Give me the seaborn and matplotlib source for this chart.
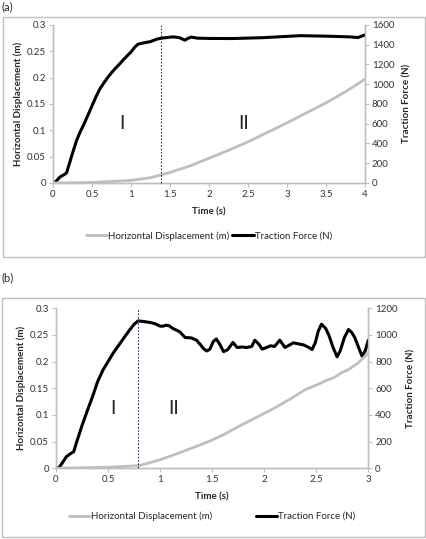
import numpy as np
import matplotlib
matplotlib.use("Agg")
import matplotlib.pyplot as plt
from matplotlib.lines import Line2D
from matplotlib.patches import Rectangle
import seaborn as sns

sns.set_style("white")
plt.rcParams['font.family'] = ['Lato', 'DejaVu Sans']

# ---- panel (a) data
ta_force = [0, 0.03, 0.09, 0.15, 0.175, 0.2, 0.25, 0.3, 0.35, 0.4, 0.45, 0.5, 0.55, 0.6,
            0.65, 0.7, 0.75, 0.8, 0.85, 0.9, 0.95, 1.0, 1.05, 1.09, 1.15, 1.25, 1.33,
            1.4, 1.45, 1.54, 1.62, 1.67, 1.69, 1.73, 1.77, 1.85, 2.0,
            2.31, 2.7, 3.17, 3.5, 3.8, 3.91, 4.0]
fa_force = [0, 10, 61, 88, 105, 170, 300, 425, 520, 600, 690, 780, 870, 950,
            1010, 1065, 1115, 1160, 1200, 1245, 1285, 1325, 1375, 1404, 1415, 1430, 1455,
            1466, 1470, 1478, 1470, 1452, 1445, 1462, 1476, 1465, 1462,
            1461, 1470, 1490, 1485, 1478, 1471, 1498]
ta_disp = [0, 0.5, 1.0, 1.25, 1.5, 1.75, 2.0, 2.25, 2.5, 2.75, 3.0, 3.25, 3.5, 3.75, 4.0]
da_disp = [0, 0.001, 0.005, 0.010, 0.02, 0.032, 0.047, 0.062, 0.078, 0.096, 0.114,
           0.133, 0.152, 0.173, 0.197]
split_a = 1.38

# ---- panel (b) data
tb_force = [0, 0.03, 0.06, 0.1, 0.14, 0.17, 0.2, 0.25, 0.3, 0.35, 0.4, 0.45, 0.5, 0.55,
            0.6, 0.65, 0.7, 0.75, 0.79, 0.85, 0.9, 0.95, 1.0, 1.03, 1.06, 1.09, 1.12,
            1.16, 1.19, 1.24, 1.3, 1.35, 1.39, 1.42, 1.45, 1.48, 1.51, 1.54, 1.57, 1.61,
            1.65, 1.70, 1.74, 1.79, 1.83, 1.88, 1.91, 1.95, 1.98, 2.02, 2.06, 2.1, 2.15,
            2.2, 2.28, 2.38, 2.42, 2.46, 2.49, 2.52, 2.55, 2.59, 2.62, 2.66, 2.70, 2.73,
            2.77, 2.81, 2.84, 2.87, 2.91, 2.94, 2.97, 3.0]
fb_force = [0, 5, 40, 87, 110, 124, 200, 320, 430, 535, 650, 735, 800, 865,
            920, 975, 1030, 1080, 1106, 1100, 1094, 1085, 1066, 1066, 1074, 1068, 1050,
            1035, 1023, 981, 978, 961, 925, 895, 880, 895, 950, 970, 935, 875,
            890, 944, 906, 910, 906, 914, 961, 930, 894, 905, 919, 914, 961,
            906, 941, 925, 910, 891, 940, 1030, 1081, 1050, 1001, 910, 836, 880,
            980, 1041, 1020, 981, 900, 841, 880, 961]
tb_disp = [0, 0.5, 0.8, 1.0, 1.2, 1.4, 1.5, 1.6, 1.75, 1.85, 2.0, 2.1, 2.25, 2.4, 2.5,
           2.6, 2.67, 2.75, 2.8, 2.9, 3.0]
db_disp = [0, 0.002, 0.005, 0.016, 0.03, 0.045, 0.053, 0.062, 0.078, 0.088, 0.103, 0.113,
           0.13, 0.148, 0.156, 0.165, 0.170, 0.18, 0.184, 0.197, 0.216]
split_b = 0.79

disp_ticks = [0, 0.05, 0.1, 0.15, 0.2, 0.25, 0.3]
disp_labels = ["0", "0.05", "0.1", "0.15", "0.2", "0.25", "0.3"]

GREY = "#bfbfbf"
AXC = "#bfbfbf"
FS = 7


def panel(rect, t_d, d, t_f, f, xmax, xticks, fmax, fticks, split, pos1, pos2, legsp, legy):
    ax = fig.add_axes(rect)
    ax2 = ax.twinx()
    sns.lineplot(x=t_d, y=d, ax=ax, color=GREY, lw=2, zorder=2)
    sns.lineplot(x=t_f, y=f, ax=ax2, color="black", lw=2.2, zorder=3)
    ax.set_xlim(0, xmax)
    ax.set_ylim(0, 0.3)
    ax2.set_ylim(0, fmax)
    ax.set_xticks(xticks)
    ax.set_xticklabels([f"{v:g}" for v in xticks], fontsize=FS)
    ax.set_yticks(disp_ticks)
    ax.set_yticklabels(disp_labels, fontsize=FS)
    ax2.set_yticks(fticks)
    ax2.set_yticklabels([str(v) for v in fticks], fontsize=FS)
    for a in (ax, ax2):
        a.spines['top'].set_visible(False)
        for s in ('left', 'right', 'bottom'):
            a.spines[s].set_color(AXC)
            a.spines[s].set_linewidth(1)
        a.tick_params(length=3, width=0.8, color=AXC, pad=2, colors="#333333")
    ax.tick_params(axis='y', left=True, direction='out')
    ax.tick_params(axis='x', bottom=True, direction='out', length=3)
    ax2.tick_params(axis='y', right=True, direction='out')
    ax.set_xlabel("Time (s)", fontsize=FS, fontweight='bold', labelpad=6)
    ax.set_ylabel("Horizontal Displacement (m)", fontsize=FS, fontweight='bold', labelpad=3)
    ax2.set_ylabel("Traction Force (N)", fontsize=FS, fontweight='bold', labelpad=6)
    ax.axvline(split, color="#1f3864", lw=0.8, ls=(0, (1.5, 1.5)), ymin=0, ymax=1,
               zorder=4, clip_on=False)
    ax.text(pos1, 0.112, "I", fontsize=14, ha='center', va='center')
    ax.text(pos2, 0.112, "II", fontsize=14, ha='center', va='center')
    handles = [Line2D([], [], color=GREY, lw=2), Line2D([], [], color="black", lw=2.2)]
    ax.legend(handles, ["Horizontal Displacement (m)", "Traction Force (N)"],
              loc='center', bbox_to_anchor=(0.5, legy), ncol=2, frameon=False,
              fontsize=FS, handlelength=2.2, handletextpad=0.1, columnspacing=legsp)
    ax.set_zorder(ax2.get_zorder() + 1)
    ax.patch.set_visible(False)
    return ax


fig = plt.figure(figsize=(4.27, 5.39), dpi=100)

fig.patches.append(Rectangle((0.006, 0.5238), 0.989, 0.4453, transform=fig.transFigure,
                             fill=False, edgecolor="#c0c0c0", lw=1))
fig.patches.append(Rectangle((0.004, 0.0043), 0.991, 0.4434, transform=fig.transFigure,
                             fill=False, edgecolor="#c0c0c0", lw=1))

panel([0.1241, 0.6605, 0.7307, 0.2935], ta_disp, da_disp, ta_force, fa_force, 4,
      [0, 0.5, 1, 1.5, 2, 2.5, 3, 3.5, 4], 1600, list(range(0, 1601, 200)),
      split_a, 0.88, 2.45, 0.3, -0.335)
panel([0.1311, 0.1312, 0.7314, 0.2968], tb_disp, db_disp, tb_force, fb_force, 3,
      [0, 0.5, 1, 1.5, 2, 2.5, 3], 1200, list(range(0, 1201, 200)),
      split_b, 0.55, 1.13, 4.5, -0.30)

fig.text(0.003, 0.9985, "(a)", fontsize=8, ha='left', va='top')
fig.text(0.003, 0.4842, "(b)", fontsize=8, ha='left', va='center')

fig.savefig("out.png", dpi=100)
